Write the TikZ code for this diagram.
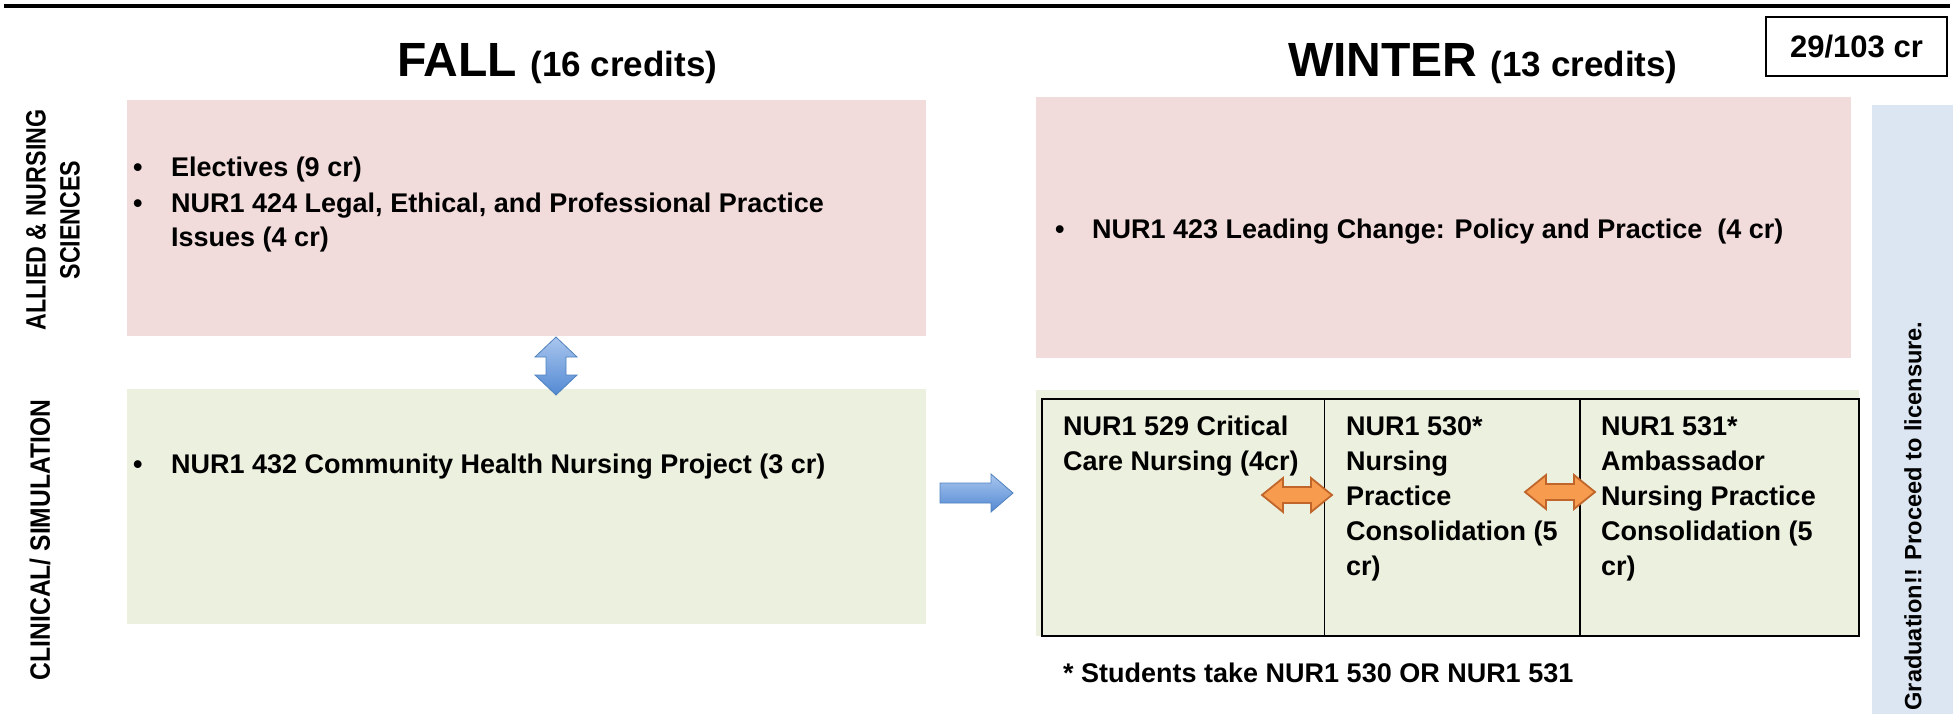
\documentclass[tikz,border=0pt]{standalone}
\usepackage{fontspec}
\usepackage{graphicx}
\setmainfont{Liberation Sans}
\usetikzlibrary{calc}
\definecolor{pinkbox}{HTML}{F2DCDB}
\definecolor{greenbox}{HTML}{EBF1DE}
\definecolor{bluebar}{HTML}{DCE6F2}
\definecolor{arrowtop}{HTML}{A9C6EE}
\definecolor{arrowbot}{HTML}{5389D3}
\definecolor{arrowline}{HTML}{4F81BD}
\definecolor{orfill}{HTML}{F79B4F}
\definecolor{orline}{HTML}{C0662B}
\begin{document}
\begin{tikzpicture}[x=1pt,y=-1pt,
  box/.style={inner sep=0pt, outer sep=0pt, anchor=north west},
  body/.style={inner sep=0pt, anchor=base west, font=\fontsize{27}{35}\selectfont\bfseries},
  side/.style={inner sep=0pt, rotate=90, font=\fontsize{23.6}{33}\selectfont\bfseries, align=center},
  bigside/.style={inner sep=0pt, rotate=90, font=\fontsize{28}{34}\selectfont\bfseries, align=center},
  bluearrow/.style={top color=arrowtop, bottom color=arrowbot, draw=arrowline, line width=0.8pt, line join=miter},
  orangearrow/.style={fill=orfill, draw=orline, line width=1.8pt, line join=miter}]
\useasboundingbox (0,0) rectangle (1959,714);

% top rule
\draw[line width=4.5pt] (4,6) -- (1950,6);

% headings
\node[inner sep=0pt, anchor=base west, font=\bfseries] (fallhead) at (397,77)
  {\fontsize{48}{48}\selectfont FALL \fontsize{35}{35}\selectfont(16 credits)};
\node[inner sep=0pt, anchor=base west, font=\bfseries] (winterhead) at (1288,77)
  {\fontsize{48}{48}\selectfont WINTER \fontsize{35}{35}\selectfont(13 credits)};
\node[draw, line width=1.5pt, inner sep=0pt, minimum width=181pt, minimum height=59pt,
  font=\fontsize{31}{31}\selectfont\bfseries] (total) at (1856.5,46.5) {29/103 cr};

% boxes
\node[box, fill=pinkbox, minimum width=799pt, minimum height=236pt] (fallpink) at (127,100) {};
\node[box, fill=greenbox, minimum width=799pt, minimum height=235pt] (fallgreen) at (127,389) {};
\node[box, fill=pinkbox, minimum width=815pt, minimum height=261pt] (winpink) at (1036,97) {};
\node[box, fill=greenbox, minimum width=823pt, minimum height=246pt] (wingreen) at (1036,390) {};
\node[box, fill=bluebar, minimum width=81pt, minimum height=609pt] (gradbar) at (1872,105) {};

% table
\node[box, draw, line width=1.8pt, minimum width=817pt, minimum height=237pt] (tbl) at (1042,399) {};
\draw[line width=1.8pt] ($(tbl.north west)+(282.5,0)$) -- ($(tbl.south west)+(282.5,0)$);
\draw[line width=1.8pt] ($(tbl.north west)+(538,0)$) -- ($(tbl.south west)+(538,0)$);

% side labels
\node[bigside] (allied) at (53,220) {\scalebox{0.83}[1]{ALLIED \& NURSING}\\\scalebox{0.83}[1]{SCIENCES}};
\node[bigside] (clin) at (40,540) {\scalebox{0.88}[1]{CLINICAL/ SIMULATION}};
\node[side] (grad) at (1913,516) {Graduation!! Proceed to licensure.};

% fall pink text
\node[body] (b1) at (133,177) {\textbullet};
\node[body] (t1) at (171,177) {Electives (9 cr)};
\node[body] (b2) at (133,212) {\textbullet};
\node[body] (t2) at (171,212) {NUR1 424 Legal, Ethical, and Professional Practice};
\node[body] (t3) at (171,247) {Issues (4 cr)};

% fall green text
\node[body] (b4) at (133,473) {\textbullet};
\node[body] (t4) at (171,473) {NUR1 432 Community Health Nursing Project (3 cr)};

% winter pink text
\node[body] (b5) at (1055,238) {\textbullet};
\node[body] (t5) at (1092,238) {NUR1 423 Leading Change: Policy and Practice\ \ (4 cr)};

% table text
\node[body] (c1a) at (1063,435) {NUR1 529 Critical};
\node[body] (c1b) at (1063,470) {Care Nursing (4cr)};
\node[body] (c2a) at (1346,435) {NUR1 530*};
\node[body] (c2b) at (1346,470) {Nursing};
\node[body] (c2c) at (1346,505) {Practice};
\node[body] (c2d) at (1346,540) {Consolidation (5};
\node[body] (c2e) at (1346,575) {cr)};
\node[body] (c3a) at (1601,435) {NUR1 531*};
\node[body] (c3b) at (1601,470) {Ambassador};
\node[body] (c3c) at (1601,505) {Nursing Practice};
\node[body] (c3d) at (1601,540) {Consolidation (5};
\node[body] (c3e) at (1601,575) {cr)};

% footnote
\node[body] (foot) at (1063,682) {* Students take NUR1 530 OR NUR1 531};

% arrows
\coordinate (vdbl) at (556,366);
\coordinate (rarr) at (940,493);
\coordinate (odbl1) at (1297,495);
\coordinate (odbl2) at (1560,492);

\draw[bluearrow, shift={(vdbl)}] (0,-29) -- (21,-9) -- (10,-9) -- (10,9) -- (21,9) -- (0,29)
  -- (-21,9) -- (-10,9) -- (-10,-9) -- (-21,-9) -- cycle;
\draw[bluearrow, shift={(rarr)}] (0,-10) -- (51,-10) -- (51,-19) -- (73,0) -- (51,19)
  -- (51,10) -- (0,10) -- cycle;
\draw[orangearrow, shift={(odbl1)}] (-35,0) -- (-14,-17) -- (-14,-8) -- (14,-8) -- (14,-17)
  -- (35,0) -- (14,17) -- (14,8) -- (-14,8) -- (-14,17) -- cycle;
\draw[orangearrow, shift={(odbl2)}] (-35,0) -- (-14,-17) -- (-14,-8) -- (14,-8) -- (14,-17)
  -- (35,0) -- (14,17) -- (14,8) -- (-14,8) -- (-14,17) -- cycle;
\end{tikzpicture}
\end{document}
